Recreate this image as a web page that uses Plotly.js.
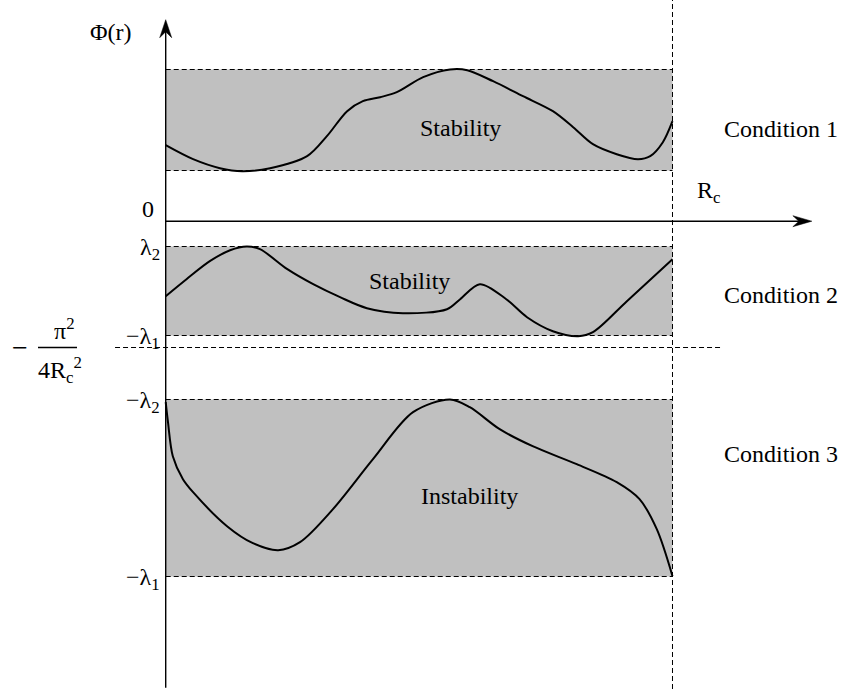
<!DOCTYPE html>
<html>
<head>
<meta charset="utf-8">
<script src="https://cdn.plot.ly/plotly-3.0.1.min.js"></script>
<style>
html,body{margin:0;padding:0;background:#fff;}
#chart{width:842px;height:689px;}
</style>
</head>
<body>
<div id="chart"></div>
<script>
// r / Rc positions and Φ(r) values (schematic units)
const r1   = [0.000, 0.054, 0.107, 0.151, 0.206, 0.279, 0.318, 0.358, 0.389, 0.423, 0.456, 0.508, 0.561, 0.595, 0.646, 0.705, 0.764, 0.804, 0.843, 0.890, 0.932, 0.956, 0.981, 1.000];
const phi1 = [0.76, 0.62, 0.53, 0.50, 0.53, 0.65, 0.85, 1.10, 1.20, 1.24, 1.29, 1.44, 1.517, 1.51, 1.40, 1.25, 1.10, 0.94, 0.77, 0.67, 0.62, 0.65, 0.79, 1.00];

const r2   = [0.000, 0.041, 0.087, 0.127, 0.160, 0.186, 0.240, 0.291, 0.344, 0.397, 0.468, 0.555, 0.581, 0.620, 0.672, 0.713, 0.764, 0.814, 0.843, 0.910, 1.000];
const phi2 = [-0.75, -0.58, -0.40, -0.29, -0.253, -0.28, -0.48, -0.63, -0.76, -0.87, -0.92, -0.88, -0.78, -0.63, -0.78, -0.96, -1.10, -1.15, -1.11, -0.80, -0.38];

const r3   = [0.000, 0.0045, 0.014, 0.034, 0.054, 0.121, 0.172, 0.222, 0.265, 0.330, 0.409, 0.488, 0.561, 0.600, 0.659, 0.724, 0.811, 0.890, 0.935, 0.969, 1.000];
const phi3 = [-1.81, -2.01, -2.35, -2.58, -2.71, -3.05, -3.22, -3.29, -3.21, -2.88, -2.38, -1.91, -1.783, -1.86, -2.08, -2.25, -2.43, -2.61, -2.78, -3.08, -3.55];

// band limits (condition 1, 2, 3) and critical level
const bandTop    = [1.517, -0.253, -1.783];
const bandBottom = [0.507, -1.143, -3.553];
const criticalLevel = -1.263;   // -π²/(4Rc²)

const bandLabels      = ['Stability', 'Stability', 'Instability'];
const bandLabelR      = [0.581, 0.481, 0.599];
const bandLabelPhi    = [0.93, -0.60, -2.75];
const conditionLabels = ['Condition 1', 'Condition 2', 'Condition 3'];
const conditionPhi    = [0.92, -0.74, -2.33];
const levelLabels     = ['λ<sub>2</sub>', '−λ<sub>1</sub>', '−λ<sub>2</sub>', '−λ<sub>1</sub>'];
const levelValues     = [bandTop[1], bandBottom[1], bandTop[2], bandBottom[2]];

const FONT = 'Liberation Serif';
const xRange = [-0.3270, 1.3345];
const yRange = [-4.678, 2.212];
const yAxisTop = 2.015, yAxisBottom = -4.665, xAxisEnd = 1.275;

const curve = (x, y) => ({x: x, y: y, type: 'scatter', mode: 'lines',
  line: {color: '#000', width: 2, shape: 'spline', smoothing: 0.9},
  hoverinfo: 'skip', showlegend: false, cliponaxis: false});

const data = [curve(r1, phi1), curve(r2, phi2), curve(r3, phi3)];

const shapes = [];
for (let i = 0; i < 3; i++) {
  shapes.push({type: 'rect', xref: 'x', yref: 'y', x0: 0, x1: 1, y0: bandBottom[i], y1: bandTop[i],
    fillcolor: '#c0c0c0', line: {width: 0}, layer: 'below'});
  [bandTop[i], bandBottom[i]].forEach(v => shapes.push({type: 'line', xref: 'x', yref: 'y',
    x0: 0, x1: 1, y0: v, y1: v, line: {color: '#000', width: 1, dash: '5px,3px'}, layer: 'below'}));
}
// critical level dashed line
shapes.push({type: 'line', xref: 'x', yref: 'y', x0: -0.100, x1: 1.098, y0: criticalLevel, y1: criticalLevel,
  line: {color: '#000', width: 1, dash: '5px,3px'}});
// Rc vertical dashed line
shapes.push({type: 'line', xref: 'x', yref: 'paper', x0: 1, x1: 1, y0: 0, y1: 1,
  line: {color: '#000', width: 1, dash: '5px,3px'}});
// axes
shapes.push({type: 'line', xref: 'x', yref: 'y', x0: 0, x1: 0, y0: yAxisBottom, y1: yAxisTop - 0.1,
  line: {color: '#000', width: 1.4}});
shapes.push({type: 'line', xref: 'x', yref: 'y', x0: 0, x1: xAxisEnd - 0.02, y0: 0, y1: 0,
  line: {color: '#000', width: 1.4}});
// arrowheads (pixel-sized)
shapes.push({type: 'path', xref: 'x', yref: 'y', xsizemode: 'pixel', ysizemode: 'pixel',
  xanchor: 0, yanchor: yAxisTop, path: 'M0,0 L-6,-18 L0,-12 L6,-18 Z',
  fillcolor: '#000', line: {color: '#000', width: 0.5}});
shapes.push({type: 'path', xref: 'x', yref: 'y', xsizemode: 'pixel', ysizemode: 'pixel',
  xanchor: xAxisEnd, yanchor: 0, path: 'M0,0 L-19,5.5 L-13,0 L-19,-5.5 Z',
  fillcolor: '#000', line: {color: '#000', width: 0.5}});
// fraction bar for -π²/(4Rc²)
shapes.push({type: 'line', xref: 'paper', yref: 'y', x0: 38/842, x1: 77/842, y0: criticalLevel, y1: criticalLevel,
  line: {color: '#000', width: 1.3}});

const txt = (text, x, y, opts) => Object.assign({text: text, x: x, y: y, xref: 'x', yref: 'y',
  showarrow: false, xanchor: 'center', yanchor: 'middle',
  font: {family: FONT, size: 24, color: '#000'}}, opts || {});

const annotations = [];
for (let i = 0; i < 3; i++) {
  annotations.push(txt(bandLabels[i], bandLabelR[i], bandLabelPhi[i]));
  annotations.push(txt(conditionLabels[i], 1.215, conditionPhi[i]));
}
levelLabels.forEach((t, i) => annotations.push(txt(t, -0.008, levelValues[i] - 0.02, {xanchor: 'right'})));
annotations.push(txt('Φ(r)', -0.108, 1.89));
annotations.push(txt('0', -0.035, 0.12));
annotations.push(txt('R<sub>c</sub>', 1.072, 0.29));
annotations.push(txt('−', -0.287, criticalLevel, {font: {family: FONT, size: 28, color: '#000'}}));
annotations.push(txt('π<sup>2</sup>', -0.2, criticalLevel + 0.19));
annotations.push(txt('4R<sub>c</sub><sup>2</sup>', -0.209, criticalLevel - 0.22));

const layout = {
  width: 842, height: 689,
  margin: {l: 0, r: 0, t: 0, b: 0},
  paper_bgcolor: '#fff', plot_bgcolor: '#fff',
  font: {family: FONT, size: 24, color: '#000'},
  xaxis: {range: xRange, visible: false, fixedrange: true},
  yaxis: {range: yRange, visible: false, fixedrange: true},
  showlegend: false,
  shapes: shapes,
  annotations: annotations
};

Plotly.newPlot('chart', data, layout, {displayModeBar: false});
</script>
</body>
</html>
